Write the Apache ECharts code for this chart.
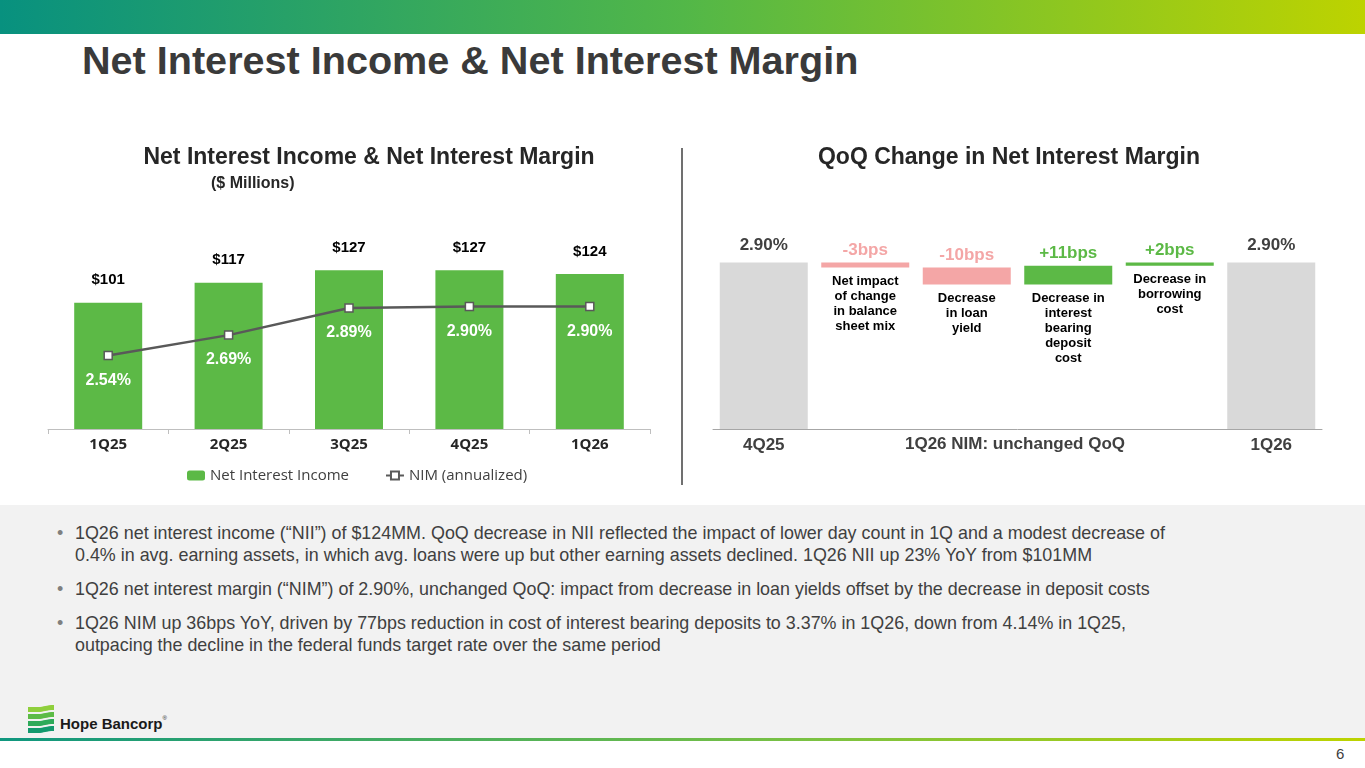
<!DOCTYPE html>
<html>
<head>
<meta charset="UTF-8">
<title>Net Interest Income &amp; Net Interest Margin</title>
<script src="https://cdn.jsdelivr.net/npm/echarts@6/dist/echarts.min.js"></script>
<style>
    *{margin:0;padding:0}
    html,body{width:1365px;height:768px;overflow:hidden;background:#fff;font-family:"Liberation Sans",Arial,sans-serif}
    #topbar{position:absolute;left:0;top:0;width:1365px;height:34px;background:linear-gradient(to right,#08917f,#52b748 50%,#bdd300)}
    #title{position:absolute;left:82px;top:38px;font-size:39.6px;line-height:45px;font-weight:bold;color:#3a3a3a;white-space:nowrap}
    #notes{position:absolute;left:0;top:505px;width:1365px;height:233px;background:#f2f2f2}
    #bottomline{position:absolute;left:0;top:738px;width:1365px;height:3px;background:linear-gradient(to right,#10977f,#7cc242 60%,#bdd300)}
    .bullet{position:absolute;left:75px;font-size:17.9px;line-height:22px;color:#404040;white-space:nowrap}
    .bullet:before{content:"\2022";position:absolute;left:-18px;color:#7f7f7f}
    #logo{position:absolute;left:26px;top:704px}
    #logotext{position:absolute;left:60px;top:715px;font-size:15px;font-weight:bold;color:#1a1a1a;white-space:nowrap}
    #logotext sup{font-size:6px;font-weight:normal;vertical-align:9px}
    #pagenum{position:absolute;left:1336px;top:745px;font-size:15px;color:#404040}
    #main{position:absolute;left:0;top:0;width:1365px;height:505px}
</style>
</head>
<body>
<div id="topbar"></div>
<div id="title">Net Interest Income &amp; Net Interest Margin</div>
<div id="notes">
    <div class="bullet" style="top:17px">1Q26 net interest income (“NII”) of $124MM. QoQ decrease in NII reflected the impact of lower day count in 1Q and a modest decrease of<br>0.4% in avg. earning assets, in which avg. loans were up but other earning assets declined. 1Q26 NII up 23% YoY from $101MM</div>
    <div class="bullet" style="top:73px">1Q26 net interest margin (“NIM”) of 2.90%, unchanged QoQ: impact from decrease in loan yields offset by the decrease in deposit costs</div>
    <div class="bullet" style="top:107px">1Q26 NIM up 36bps YoY, driven by 77bps reduction in cost of interest bearing deposits to 3.37% in 1Q26, down from 4.14% in 1Q25,<br>outpacing the decline in the federal funds target rate over the same period</div>
</div>
<div id="bottomline"></div>
<svg id="logo" width="32" height="30" viewBox="0 0 32 30">
    <path d="M2 3 L12 3 C18 3 20 1 28 1 L28 6 C20 6 18 8 12 8 L2 8 Z" fill="#8fcf3c"/>
    <path d="M2 10 L12 10 C18 10 20 8 28 8 L28 13 C20 13 18 15 12 15 L2 15 Z" fill="#5cbb46"/>
    <path d="M2 17 L12 17 C18 17 20 15 28 15 L28 20 C20 20 18 22 12 22 L2 22 Z" fill="#2eaa5a"/>
    <path d="M2 24 L12 24 C18 24 20 22 28 22 L28 27 C20 27 18 29 12 29 L2 29 Z" fill="#13996e"/>
</svg>
<div id="logotext">Hope Bancorp<sup>®</sup></div>
<div id="pagenum">6</div>
<div id="main"></div>
<script type="text/javascript">
    // left chart: NII bars + NIM line
    var quarters = ['1Q25', '2Q25', '3Q25', '4Q25', '1Q26'];
    var niiValues = [101, 117, 127, 127, 124];
    var nimValues = [2.54, 2.69, 2.89, 2.90, 2.90];

    // right chart: QoQ NIM walk
    var wfCategories = ['4Q25', 'mix', 'loan', 'deposit', 'borrowing', '1Q26'];
    var nimStart = 2.90;
    var nimEnd = 2.90;
    var bpsChanges = [-3, -10, 11, 2];
    var bpsDrivers = [
        'Net impact\nof change\nin balance\nsheet mix',
        'Decrease\nin loan\nyield',
        'Decrease in\ninterest\nbearing\ndeposit\ncost',
        'Decrease in\nborrowing\ncost'
    ];

    var green = '#5cb946';
    var pink = '#f4a6a6';

    // build waterfall pieces (invisible base + visible change)
    var wfBase = ['-'], wfDelta = ['-'], wfTotal = [nimStart];
    var level = nimStart;
    bpsChanges.forEach(function (b) {
        var next = +(level + b / 100).toFixed(4);
        var c = b < 0 ? pink : green;
        wfBase.push(Math.min(level, next));
        wfDelta.push({value: Math.abs(b) / 100, itemStyle: {color: c}, label: {color: c}});
        wfTotal.push('-');
        level = next;
    });
    wfBase.push('-');
    wfDelta.push('-');
    wfTotal.push(nimEnd);

    var myChart = echarts.init(document.getElementById('main'));

    var narrow = '"Liberation Sans Narrow", "Liberation Sans"';

    var option = {
        animation: false,
        textStyle: {fontFamily: '"Liberation Sans", Arial, sans-serif'},
        graphic: [
            {type: 'text', x: 369, y: 158, style: {text: 'Net Interest Income & Net Interest Margin', align: 'center', verticalAlign: 'middle',
                fontFamily: narrow, fontSize: 23, fontWeight: 'bold', fill: '#262626'}},
            {type: 'text', x: 211, y: 184, style: {text: '($ Millions)', align: 'left', verticalAlign: 'middle',
                fontFamily: narrow, fontSize: 16, fontWeight: 'bold', fill: '#262626'}},
            {type: 'text', x: 1009, y: 158, style: {text: 'QoQ Change in Net Interest Margin', align: 'center', verticalAlign: 'middle',
                fontFamily: narrow, fontSize: 23, fontWeight: 'bold', fill: '#262626'}},
            {type: 'line', shape: {x1: 682, y1: 148, x2: 682, y2: 485}, style: {stroke: '#404040', lineWidth: 1.5}},
            {type: 'text', x: 1015, y: 444, style: {text: '1Q26 NIM: unchanged QoQ', align: 'center', verticalAlign: 'middle',
                fontFamily: '"Liberation Sans"', fontSize: 17, fontWeight: 'bold', fill: '#404040'}}
        ],
        legend: {
            left: 182,
            top: 463,
            itemWidth: 18,
            itemHeight: 10,
            itemGap: 36,
            textStyle: {fontFamily: '"Open Sans"', fontSize: 15, color: '#404040'},
            data: ['Net Interest Income', 'NIM (annualized)']
        },
        grid: [
            {left: 48, right: 715, top: 229, bottom: 76},
            {left: 713, right: 43, top: 229, bottom: 76}
        ],
        xAxis: [
            {
                type: 'category', gridIndex: 0, data: quarters,
                axisLine: {lineStyle: {color: '#bfbfbf'}},
                axisTick: {show: true, length: 5, lineStyle: {color: '#bfbfbf'}},
                axisLabel: {margin: 8, fontFamily: '"Open Sans"', fontSize: 15, fontWeight: 'bold', color: '#262626'}
            },
            {
                type: 'category', gridIndex: 1, data: wfCategories,
                axisLine: {lineStyle: {color: '#a6a6a6'}},
                axisTick: {show: false},
                axisLabel: {
                    margin: 8, fontSize: 17, fontWeight: 'bold', color: '#404040', interval: 0,
                    formatter: function (v, i) {
                        return (i === 0 || i === wfCategories.length - 1) ? v : '';
                    }
                }
            }
        ],
        yAxis: [
            {type: 'value', gridIndex: 0, min: 0, max: 160, show: false},
            {type: 'value', gridIndex: 0, min: 2.0, max: 3.47, show: false},
            {type: 'value', gridIndex: 1, min: 1.92, max: 3.0965, show: false}
        ],
        series: [
            {
                name: 'Net Interest Income',
                type: 'bar',
                xAxisIndex: 0, yAxisIndex: 0,
                barWidth: 68,
                itemStyle: {color: green},
                label: {
                    show: true, position: 'top', distance: 15,
                    fontSize: 15, fontWeight: 'bold', color: '#000',
                    formatter: function (p) { return '$' + p.value; }
                },
                data: niiValues
            },
            {
                name: 'NIM (annualized)',
                type: 'line',
                xAxisIndex: 0, yAxisIndex: 1,
                symbol: 'rect',
                symbolSize: 8,
                lineStyle: {color: '#595959', width: 2.5},
                itemStyle: {color: '#fff', borderColor: '#595959', borderWidth: 1.5},
                label: {
                    show: true, position: 'bottom', distance: 12,
                    fontSize: 16, fontWeight: 'bold', color: '#fff',
                    formatter: function (p) { return p.value.toFixed(2) + '%'; }
                },
                z: 5,
                data: nimValues
            },
            {
                name: 'base',
                type: 'bar',
                xAxisIndex: 1, yAxisIndex: 2,
                stack: 'wf',
                barWidth: 88,
                clip: true,
                silent: true,
                itemStyle: {color: 'transparent'},
                label: {
                    show: true, position: 'insideTop', distance: 6,
                    fontSize: 13, fontWeight: 'bold', color: '#000', lineHeight: 15, align: 'center',
                    formatter: function (p) { return bpsDrivers[p.dataIndex - 1]; }
                },
                data: wfBase
            },
            {
                name: 'change',
                type: 'bar',
                xAxisIndex: 1, yAxisIndex: 2,
                stack: 'wf',
                barWidth: 88,
                clip: true,
                label: {
                    show: true, position: 'top', distance: 4,
                    fontSize: 17, fontWeight: 'bold',
                    formatter: function (p) {
                        var b = bpsChanges[p.dataIndex - 1];
                        return (b > 0 ? '+' : '') + b + 'bps';
                    }
                },
                data: wfDelta
            },
            {
                name: 'total',
                type: 'bar',
                xAxisIndex: 1, yAxisIndex: 2,
                stack: 'wf',
                barWidth: 88,
                clip: true,
                itemStyle: {color: '#d9d9d9'},
                label: {
                    show: true, position: 'top', distance: 9,
                    fontSize: 17, fontWeight: 'bold', color: '#404040',
                    formatter: function (p) { return p.value.toFixed(2) + '%'; }
                },
                data: wfTotal
            }
        ]
    };

    myChart.setOption(option);
</script>
</body>
</html>
